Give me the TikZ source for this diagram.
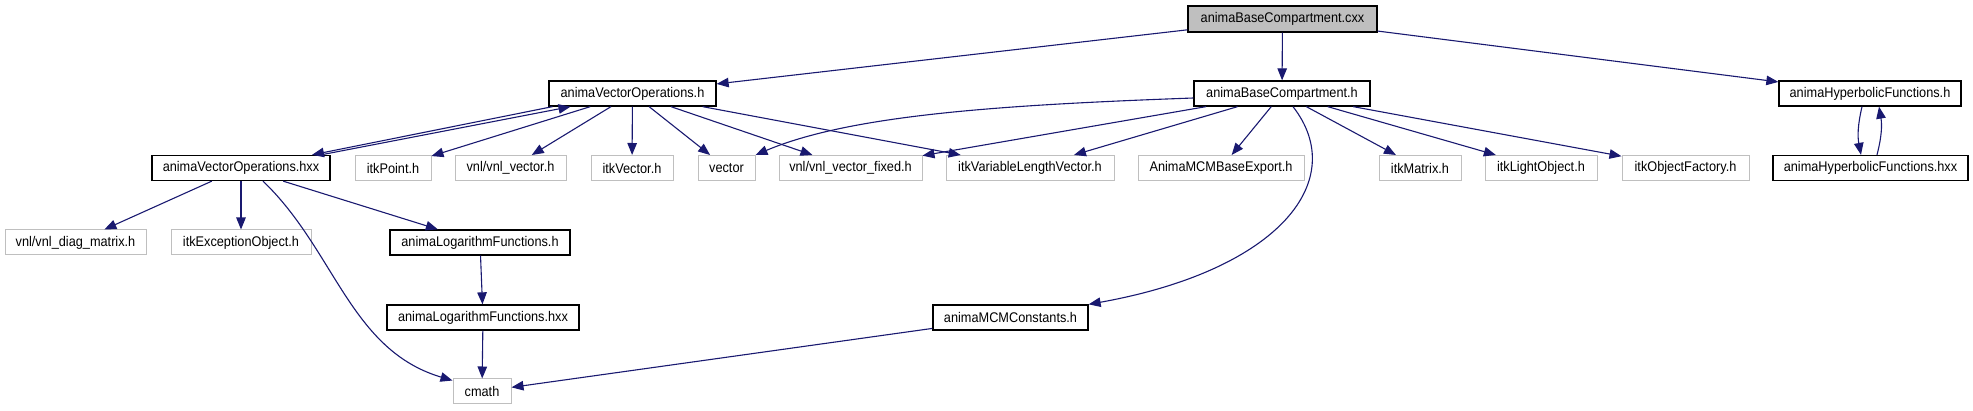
\documentclass[tikz,border=0pt]{standalone}
\usepackage{fontspec}
\setmainfont{Liberation Sans}[FakeStretch=0.91]
\usetikzlibrary{arrows.meta}
\definecolor{edgec}{HTML}{191970}
\definecolor{graybd}{HTML}{BFBFBF}
\begin{document}
\begin{tikzpicture}[x=1pt,y=-1pt,
  box/.style={rectangle, minimum height=25pt, inner sep=0pt, font=\fontsize{14}{16}\selectfont, text=black},
  doc/.style={box, draw=black, line width=1.3pt},
  ext/.style={box, draw=graybd, line width=1pt},
  dep/.style={draw=edgec, line width=1.1pt, -{Triangle[length=12pt,width=9.5pt]}}
]
\useasboundingbox (0,0) rectangle (1973,411);
% row 0
\node[doc, fill=graybd, minimum width=189pt, minimum height=26pt] (cxx) at (1282.5,19) {animaBaseCompartment.cxx};
% row 1
\node[doc, minimum width=167pt] (voh) at (632.5,93.5) {animaVectorOperations.h};
\node[doc, minimum width=176pt] (bch) at (1282,93.5) {animaBaseCompartment.h};
\node[doc, minimum width=182pt] (hfh) at (1870,93.5) {animaHyperbolicFunctions.h};
% row 2
\node[doc, minimum width=178pt] (vohxx) at (241,168) {animaVectorOperations.hxx};
\node[ext, minimum width=76pt] (itkpoint) at (393,168) {itkPoint.h};
\node[ext, minimum width=111pt] (vnlvec) at (510.5,168) {vnl/vnl\_vector.h};
\node[ext, minimum width=82pt] (itkvec) at (632,168) {itkVector.h};
\node[ext, minimum width=57pt] (vec) at (726.5,168) {vector};
\node[ext, minimum width=143pt] (vnlfix) at (850.5,168) {vnl/vnl\_vector\_fixed.h};
\node[ext, minimum width=168pt] (itkvlv) at (1030,168) {itkVariableLengthVector.h};
\node[ext, minimum width=166pt] (export) at (1221,168) {AnimaMCMBaseExport.h};
\node[ext, minimum width=82pt] (itkmat) at (1420,168) {itkMatrix.h};
\node[ext, minimum width=112pt] (itklight) at (1541,168) {itkLightObject.h};
\node[ext, minimum width=127pt] (itkfact) at (1685.5,168) {itkObjectFactory.h};
\node[doc, minimum width=195pt] (hfhxx) at (1870.5,168) {animaHyperbolicFunctions.hxx};
% row 3
\node[ext, minimum width=141pt] (diag) at (75.5,242.5) {vnl/vnl\_diag\_matrix.h};
\node[ext, minimum width=140pt] (exc) at (241,242.5) {itkExceptionObject.h};
\node[doc, minimum width=180pt] (logh) at (480,242.5) {animaLogarithmFunctions.h};
% row 4
\node[doc, minimum width=192pt] (loghxx) at (483,317.5) {animaLogarithmFunctions.hxx};
\node[doc, minimum width=155pt] (mcm) at (1010.5,317.5) {animaMCMConstants.h};
% row 5
\node[ext, minimum width=58pt] (cmath) at (482,391.5) {cmath};

% edges from cxx
\draw[dep] (cxx) -- (voh);
\draw[dep] (cxx) -- (bch);
\draw[dep] (cxx) -- (hfh);
% edges from animaVectorOperations.h
\draw[dep] ([xshift=-80pt]voh.south) -- ([xshift=71pt]vohxx.north);
\draw[dep] ([xshift=80pt]vohxx.north) -- ([xshift=-62pt]voh.south);
\draw[dep] (voh) -- (itkpoint);
\draw[dep] (voh) -- (vnlvec);
\draw[dep] (voh) -- (itkvec);
\draw[dep] (voh) -- (vec);
\draw[dep] (voh) -- (vnlfix);
\draw[dep] (voh) -- (itkvlv);
% edges from animaBaseCompartment.h
\draw[dep] ([yshift=-4.5pt]bch.west) .. controls (1000,105) and (850,115) .. (vec.north east);
\draw[dep] (bch) -- (vnlfix);
\draw[dep] (bch) -- (itkvlv);
\draw[dep] (bch) -- (export);
\draw[dep] ([xshift=11pt]bch.south) .. controls (1350,180) and (1280,270) .. (mcm.north east);
\draw[dep] (bch) -- (itkmat);
\draw[dep] (bch) -- (itklight);
\draw[dep] (bch) -- (itkfact);
% hyperbolic
\draw[dep] ([xshift=-8pt]hfh.south) to[bend right=12] ([xshift=-9.5pt]hfhxx.north);
\draw[dep] ([xshift=6.5pt]hfhxx.north) to[bend right=12] ([xshift=9pt]hfh.south);
% edges from animaVectorOperations.hxx
\draw[dep] (vohxx) -- (diag);
\draw[dep] (vohxx) -- (exc);
\draw[dep] ([xshift=22pt]vohxx.south) .. controls (335,250) and (350,350) .. ([yshift=-2pt]cmath.north west);
\draw[dep] (vohxx) -- (logh);
% logarithm
\draw[dep] (logh) -- (loghxx);
\draw[dep] (loghxx) -- (cmath);
\draw[dep] (mcm) -- (cmath);
\end{tikzpicture}
\end{document}
